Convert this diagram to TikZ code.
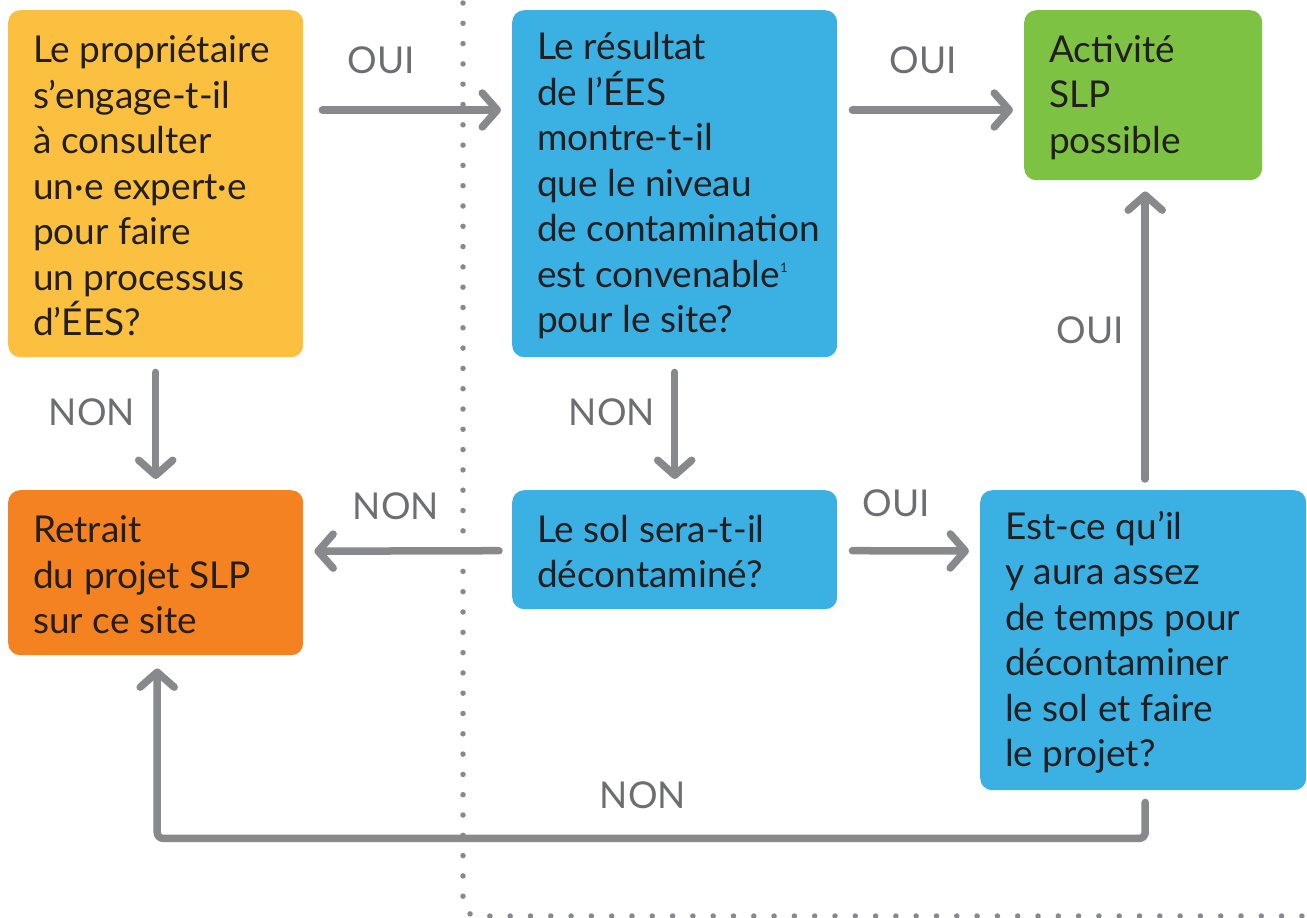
\documentclass[tikz,border=0pt]{standalone}
\usepackage{fontspec}
\setmainfont{Lato}
\usetikzlibrary{arrows.meta,calc}
\definecolor{yel}{HTML}{FCC041}
\definecolor{blu}{HTML}{3BB0E2}
\definecolor{grn}{HTML}{7DC242}
\definecolor{org}{HTML}{F58220}
\definecolor{arrgray}{HTML}{88898C}
\definecolor{lblgray}{HTML}{6D6E71}
\definecolor{txt}{HTML}{231F20}
\tikzset{
  box/.style={draw=none, rounded corners=12pt, inner sep=0pt, anchor=north west},
  btxt/.style={anchor=west, align=left, inner sep=0pt, text=txt, font=\fontsize{37}{45.5}\selectfont},
  lbl/.style={text=lblgray, inner sep=0pt, font=\fontsize{37}{40}\selectfont},
  arr/.style={draw=arrgray, line width=7.5pt, line cap=round, line join=round,
    -{Straight Barb[length=15pt,width=34pt,round]}},
  dotline/.style={draw=arrgray, line width=5.5pt, line cap=round, dash pattern=on 0pt off 20.3pt}
}
\begin{document}
\begin{tikzpicture}[x=1pt,y=-1pt]
\useasboundingbox (0,0) rectangle (1307,918);
% dotted separator
\draw[dotline, rounded corners=14pt] (463,3) |- (1306,916);
% boxes
\node[box, fill=yel, minimum width=295pt, minimum height=347pt] (q1) at (8,10) {};
\node[box, fill=blu, minimum width=325pt, minimum height=347pt] (q2) at (512,10) {};
\node[box, fill=grn, minimum width=238pt, minimum height=170pt] (ok) at (1024,10) {};
\node[box, fill=org, minimum width=295pt, minimum height=165pt] (out) at (8,490) {};
\node[box, fill=blu, minimum width=325pt, minimum height=119pt] (q3) at (512,490) {};
\node[box, fill=blu, minimum width=326pt, minimum height=300pt] (q4) at (980,490) {};
% texts
\node[btxt] (q1t) at ([xshift=25pt,yshift=-2pt]q1.west) {Le propriétaire\\s’engage-t-il\\à consulter\\un·e expert·e\\pour faire\\un processus\\d’ÉES?};
\node[btxt] (q2t) at ([xshift=25pt,yshift=-2pt]q2.west) {Le résultat\\de l’ÉES\\montre-t-il\\que le niveau\\de contamination\\est convenable{\fontsize{13}{13}\selectfont\raisebox{15pt}{1}}\\pour le site?};
\node[btxt] (okt) at ([xshift=25pt,yshift=-2pt]ok.west) {Activité\\SLP\\possible};
\node[btxt] (outt) at ([xshift=25pt,yshift=-2pt]out.west) {Retrait\\du projet SLP\\sur ce site};
\node[btxt] (q3t) at ([xshift=25pt,yshift=-2pt]q3.west) {Le sol sera-t-il\\décontaminé?};
\node[btxt] (q4t) at ([xshift=25pt,yshift=-2pt]q4.west) {Est-ce qu’il\\y aura assez\\de temps pour\\décontaminer\\le sol et faire\\le projet?};
% arrows
\draw[arr] ($(q1.north east)+(19,100)$) -- ($(q2.north west)+(-11,100)$);
\draw[arr] ($(q2.north east)+(15,100)$) -- ($(ok.north west)+(-11,100)$);
\draw[arr] ($(q1.south)+(0,15)$) -- ($(out.north)+(0,-11)$);
\draw[arr] ($(q2.south)+(0,15)$) -- ($(q3.north)+(0,-11)$);
\draw[arr] ($(q3.west)+(-13,1)$) -- ($(out.east)+(11,-21.5)$);
\draw[arr] ($(q3.east)+(15,1)$) -- ($(q4.north west)+(-11,61)$);
\draw[arr] ($(q4.north)+(2,-11)$) -- ($(ok.south)+(2,11)$);
\draw[arr, rounded corners=6pt] ($(q4.south)+(2,12)$) -- ++(0,36) -| ($(out.south)+(1.5,13)$);
% labels
\node[lbl] (l1) at (381,60) {OUI};
\node[lbl] (l2) at (923,60) {OUI};
\node[lbl] (l3) at (92,412) {NON};
\node[lbl] (l4) at (612,412) {NON};
\node[lbl] (l5) at (396,506) {NON};
\node[lbl] (l6) at (896,503) {OUI};
\node[lbl] (l7) at (1090,330) {OUI};
\node[lbl] (l8) at (643,795) {NON};
\end{tikzpicture}
\end{document}
